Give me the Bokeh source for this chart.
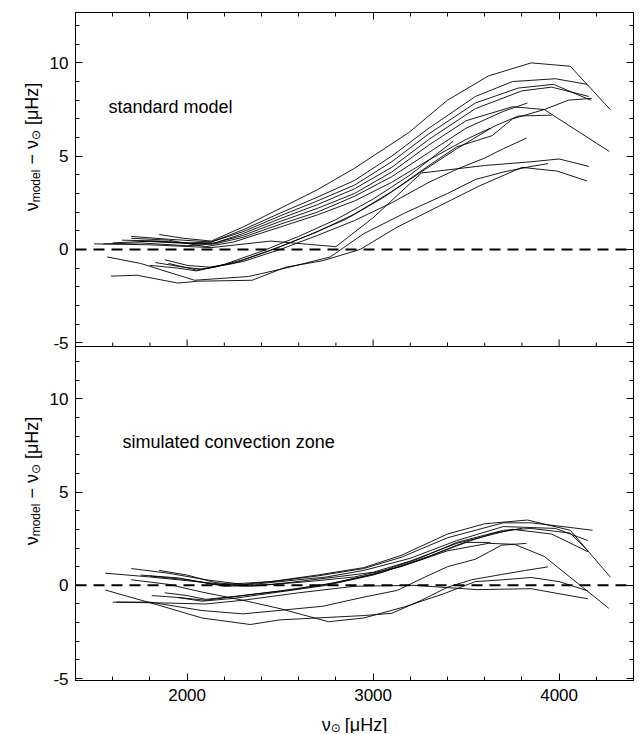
import math
from bokeh.plotting import figure
from bokeh.models import FixedTicker, LinearAxis, Range1d, Span, Label
from bokeh.layouts import column, row
from bokeh.embed import file_html
from bokeh.resources import INLINE

# ---------------- data: standard model (upper panel) ----------------
std_a_x = [1850, 1980, 2130, 2300, 2500, 2700, 2900, 3190, 3400, 3620, 3850, 4060, 4275]
std_a_y = [0.8, 0.6, 0.45, 1.2, 2.2, 3.2, 4.35, 6.25, 8.0, 9.3, 10.0, 9.82, 7.5]
std_b_x = [1700, 1900, 2130, 2300, 2500, 2700, 2900, 3100, 3300, 3550, 3750, 3980, 4150]
std_b_y = [0.7, 0.55, 0.4, 1.05, 1.95, 2.8, 3.7, 5.0, 6.5, 8.2, 9.0, 9.15, 8.85]
std_c_x = [1600, 1800, 2000, 2130, 2300, 2500, 2700, 2900, 3100, 3300, 3550, 3780, 3970, 4170]
std_c_y = [0.35, 0.45, 0.35, 0.4, 0.95, 1.8, 2.6, 3.45, 4.7, 6.2, 7.85, 8.65, 8.85, 8.0]
std_d_x = [1650, 1850, 2050, 2150, 2300, 2500, 2700, 2900, 3100, 3300, 3550, 3800, 3960, 4160]
std_d_y = [0.5, 0.45, 0.3, 0.35, 0.85, 1.65, 2.4, 3.25, 4.4, 5.9, 7.55, 8.5, 8.7, 8.2]
std_e_x = [1750, 1950, 2130, 2300, 2500, 2700, 2900, 3100, 3300, 3500, 3750, 3920, 4270]
std_e_y = [0.45, 0.35, 0.3, 0.75, 1.5, 2.2, 3.0, 4.15, 5.6, 6.9, 7.65, 7.5, 5.25]
std_f_x = [1550, 1750, 2000, 2150, 2300, 2500, 2700, 2900, 3100, 3300, 3500, 3700, 3830]
std_f_y = [0.3, 0.35, 0.2, 0.3, 0.65, 1.35, 2.0, 2.85, 3.9, 5.2, 6.5, 7.4, 7.85]
std_g_x = [1700, 1900, 2100, 2250, 2500, 2700, 2900, 3100, 3300, 3500, 3630]
std_g_y = [0.6, 0.5, 0.15, 0.4, 1.2, 1.85, 2.6, 3.6, 4.8, 5.9, 6.5]
std_h_x = [1800, 1950, 2050, 2200, 2400, 2600, 2800, 3000, 3200, 3430]
std_h_y = [-0.85, -1.0, -1.15, -0.8, -0.1, 0.7, 1.6, 2.7, 4.0, 5.8]
std_i_x = [1830, 1980, 2080, 2250, 2450, 2650, 2850, 3050, 3250, 3450, 3650, 3780, 3960]
std_i_y = [-0.7, -0.95, -1.05, -0.75, -0.05, 0.75, 1.6, 2.75, 4.1, 5.4, 6.6, 7.15, 7.2]
std_j_x = [1900, 2050, 2150, 2300, 2500, 2700, 2900, 3100, 3300, 3450, 3640, 3750, 3920, 4050, 4175]
std_j_y = [-0.75, -1.1, -0.95, -0.55, 0.15, 0.95, 1.9, 3.1, 4.5, 5.5, 6.1, 7.0, 7.5, 8.0, 8.1]
std_k_x = [1880, 2000, 2120, 2300, 2500, 2700, 2900, 3100, 3300, 3450, 3600, 3700, 3825]
std_k_y = [-0.55, -0.85, -0.95, -0.65, 0.0, 0.75, 1.55, 2.5, 3.6, 4.3, 4.9, 5.4, 5.97]
std_l_x = [1570, 1750, 2040, 2330, 2550, 2770, 2950, 3170, 3400, 3550, 3700, 3850, 3940]
std_l_y = [-0.4, -0.75, -1.65, -1.45, -0.95, -0.4, 0.85, 1.95, 3.0, 3.75, 4.15, 4.45, 4.6]
std_m_x = [1590, 1730, 1950, 2060, 2350, 2530, 2730, 2930, 3130, 3350, 3570, 3800, 3990, 4150]
std_m_y = [-1.43, -1.38, -1.8, -1.7, -1.65, -0.95, -0.6, 0.0, 1.2, 2.3, 3.4, 4.4, 4.2, 3.67]
std_n_x = [1500, 1800, 2130, 2450, 2800, 3000, 3260, 3600, 3850, 4000, 4160]
std_n_y = [0.3, 0.25, 0.1, 0.45, 0.15, 1.7, 4.1, 4.5, 4.7, 4.85, 4.45]

# ---------------- data: simulated convection zone (lower panel) ----------------
cz_a_x = [1560, 1800, 2000, 2200, 2450, 2700, 2950, 3150, 3400, 3600, 3830, 4060, 4275]
cz_a_y = [0.65, 0.45, 0.25, 0.05, 0.2, 0.55, 0.95, 1.6, 2.75, 3.3, 3.5, 2.95, 0.45]
cz_b_x = [1700, 1900, 2100, 2300, 2500, 2700, 2950, 3150, 3400, 3700, 3850, 4060, 4180]
cz_b_y = [0.9, 0.65, 0.3, 0.05, 0.25, 0.5, 0.9, 1.5, 2.55, 3.35, 3.35, 3.1, 2.95]
cz_c_x = [1850, 2000, 2150, 2300, 2500, 2750, 2950, 3200, 3450, 3700, 3980, 4155]
cz_c_y = [0.8, 0.55, 0.15, 0.0, 0.2, 0.45, 0.8, 1.45, 2.4, 3.15, 3.05, 2.4]
cz_d_x = [1750, 1950, 2150, 2350, 2550, 2800, 3000, 3200, 3450, 3750, 3960, 4155]
cz_d_y = [0.55, 0.4, 0.05, -0.05, 0.15, 0.45, 0.7, 1.3, 2.25, 3.0, 2.75, 1.8]
cz_e_x = [1800, 2000, 2200, 2400, 2650, 2900, 3150, 3400, 3620, 3760, 3920, 4267]
cz_e_y = [0.5, 0.3, -0.05, 0.0, 0.2, 0.45, 1.0, 1.85, 2.25, 2.2, 1.55, -1.23]
cz_f_x = [1810, 1950, 2080, 2250, 2500, 2750, 3000, 3250, 3450, 3650, 3800]
cz_f_y = [-0.55, -0.65, -0.85, -0.7, -0.35, 0.0, 0.55, 1.35, 2.15, 2.8, 3.05]
cz_g_x = [1880, 2000, 2100, 2250, 2500, 2750, 3000, 3250, 3450, 3700, 3850, 4060, 4155]
cz_g_y = [-0.4, -0.55, -0.75, -0.6, -0.3, 0.05, 0.6, 1.45, 2.3, 2.95, 3.05, 2.8, 1.85]
cz_h_x = [1950, 2100, 2300, 2550, 2800, 3050, 3300, 3500, 3630]
cz_h_y = [-0.65, -0.8, -0.55, -0.25, 0.15, 0.7, 1.55, 2.3, 2.3]
cz_i_x = [1600, 1800, 2080, 2300, 2730, 2950, 3130, 3280, 3400, 3550, 3690, 3825]
cz_i_y = [-0.9, -0.9, -1.35, -1.53, -1.12, -0.63, -0.27, 0.45, 1.0, 1.4, 2.15, 2.25]
cz_j_x = [1560, 1860, 2080, 2340, 2500, 2950, 3100, 3260, 3400, 3530, 3690, 3820, 3940]
cz_j_y = [-0.25, -1.1, -1.75, -2.1, -1.85, -1.62, -1.5, -0.8, -0.1, 0.3, 0.58, 0.8, 0.99]
cz_k_x = [1700, 1900, 2080, 2300, 2500, 2760, 2950, 3170, 3380, 3550, 3700, 3850, 4000, 4155]
cz_k_y = [0.3, 0.05, -0.36, -0.8, -1.25, -1.95, -1.75, -1.15, -0.45, 0.2, 0.3, 0.42, 0.2, -0.3]
cz_l_x = [1620, 1900, 2100, 2300, 2600, 2900, 3220, 3560, 3850, 4000, 4155]
cz_l_y = [-0.9, -0.95, -1.0, -0.8, -0.4, -0.05, 0.0, -0.23, -0.18, -0.45, -0.72]

std_curves = [(std_a_x, std_a_y), (std_b_x, std_b_y), (std_c_x, std_c_y), (std_d_x, std_d_y),
              (std_e_x, std_e_y), (std_f_x, std_f_y), (std_g_x, std_g_y), (std_h_x, std_h_y),
              (std_i_x, std_i_y), (std_j_x, std_j_y), (std_k_x, std_k_y), (std_l_x, std_l_y),
              (std_m_x, std_m_y), (std_n_x, std_n_y)]
cz_curves = [(cz_a_x, cz_a_y), (cz_b_x, cz_b_y), (cz_c_x, cz_c_y), (cz_d_x, cz_d_y),
             (cz_e_x, cz_e_y), (cz_f_x, cz_f_y), (cz_g_x, cz_g_y), (cz_h_x, cz_h_y),
             (cz_i_x, cz_i_y), (cz_j_x, cz_j_y), (cz_k_x, cz_k_y), (cz_l_x, cz_l_y)]

# ticks, limits and texts
x_major = [2000, 3000, 4000]
x_minor = [1400, 1600, 1800, 2200, 2400, 2600, 2800, 3200, 3400, 3600, 3800, 4200, 4400]
y_major = [-5, 0, 5, 10]
y_minor = [-5, -4, -3, -2, -1, 0, 1, 2, 3, 4, 5, 6, 7, 8, 9, 10, 11, 12]
x_limits = (1400, 4400)
panel_limits = (-5.1, 12.8)          # lower panel's y extent
upper_top = 12.7                      # upper panel's top in its own units
panel_titles = ["standard model", "simulated convection zone"]
x_title = ["ν", "⊙", "[μHz]"]
y_title = ["ν", "model", "−", "ν", "⊙", "[μHz]"]

# the two panels share one frame: the upper panel is drawn shifted up by SHIFT
SHIFT = 18
Y_LO = panel_limits[0]
Y_HI = upper_top + SHIFT
BOUND = panel_limits[1]

FONT = "Liberation Sans"
FRAME_W, FRAME_H = 558, 668
B_LEFT, B_RIGHT, B_TOP, B_BOTTOM = 31, 2, 12, 31
YLAB_W = 44
XLAB_H = 22


def hide_labels(ax):
    ax.major_label_text_font_size = "0px"
    ax.major_label_text_color = None
    ax.major_label_standoff = 0


def base_axis(ax, ticks, minor):
    ax.ticker = FixedTicker(ticks=ticks, minor_ticks=minor)
    ax.major_tick_in = 7
    ax.major_tick_out = 0
    ax.minor_tick_in = 4
    ax.minor_tick_out = 0
    ax.axis_line_color = "black"
    ax.major_tick_line_color = "black"
    ax.minor_tick_line_color = "black"


def blank_strip(w, h):
    f = figure(width=w, height=h, x_range=Range1d(0, w), y_range=Range1d(0, h),
               title=None, output_backend="svg", toolbar_location=None, tools="",
               x_axis_location=None, y_axis_location=None,
               min_border_left=0, min_border_right=0, min_border_top=0, min_border_bottom=0)
    f.xgrid.visible = False
    f.ygrid.visible = False
    f.outline_line_color = None
    return f


p = figure(frame_width=FRAME_W, frame_height=FRAME_H, title=None,
           x_range=Range1d(*x_limits), y_range=Range1d(Y_LO, Y_HI),
           output_backend="svg", toolbar_location=None, tools="",
           x_axis_location=None, y_axis_location=None,
           min_border_left=B_LEFT, min_border_right=B_RIGHT,
           min_border_top=B_TOP, min_border_bottom=B_BOTTOM)
p.xgrid.visible = False
p.ygrid.visible = False
p.outline_line_color = "black"
p.background_fill_color = "white"
p.border_fill_color = "white"

y_ticks = y_major + [v + SHIFT for v in y_major]
y_minor_all = y_minor + [v + SHIFT for v in y_minor]
y_labels = {v: str(v) for v in y_major}
y_labels.update({v + SHIFT: str(v) for v in y_major})

bx = LinearAxis()
base_axis(bx, x_major, x_minor)
bx.major_label_text_font = FONT
bx.major_label_text_font_size = "17px"
bx.major_label_text_color = "black"
bx.major_label_standoff = 8
p.add_layout(bx, "below")

tx = LinearAxis()
base_axis(tx, x_major, x_minor)
hide_labels(tx)
p.add_layout(tx, "above")

ly = LinearAxis()
base_axis(ly, y_ticks, y_minor_all)
ly.major_label_overrides = y_labels
ly.major_label_text_font = FONT
ly.major_label_text_font_size = "17px"
ly.major_label_text_color = "black"
ly.major_label_standoff = 7
p.add_layout(ly, "left")

ry = LinearAxis()
base_axis(ry, y_ticks, y_minor_all)
hide_labels(ry)
p.add_layout(ry, "right")

# boundary between the panels, with the upper panel's bottom ticks
p.add_layout(Span(location=BOUND, dimension="width", line_color="black", line_width=1))
units_per_px = (Y_HI - Y_LO) / FRAME_H
p.segment(x0=x_major, y0=[BOUND] * len(x_major), x1=x_major,
          y1=[BOUND + 7 * units_per_px] * len(x_major), line_color="black", line_width=1)
p.segment(x0=x_minor, y0=[BOUND] * len(x_minor), x1=x_minor,
          y1=[BOUND + 4 * units_per_px] * len(x_minor), line_color="black", line_width=1)

# zero reference lines
for off in (0, SHIFT):
    p.add_layout(Span(location=off, dimension="width", line_color="black",
                      line_width=2, line_dash="11 7"))

for xs, ys in std_curves:
    p.line(xs, [v + SHIFT for v in ys], line_color="black", line_width=0.9)
for xs, ys in cz_curves:
    p.line(xs, ys, line_color="black", line_width=0.9)

p.add_layout(Label(x=1577, y=7.65 + SHIFT, text=panel_titles[0], text_font=FONT,
                   text_font_size="18px", text_color="black",
                   text_align="left", text_baseline="middle"))
p.add_layout(Label(x=1653, y=7.68, text=panel_titles[1], text_font=FONT,
                   text_font_size="18px", text_color="black",
                   text_align="left", text_baseline="middle"))

# ---------- left strip holding the two rotated y titles ----------
H_MAIN = B_TOP + FRAME_H + B_BOTTOM
yl = blank_strip(YLAB_W, H_MAIN)
piece_size = [18, 12, 18, 18, 12, 18]
piece_shift = [0, 4, 0, 0, 4, 0]
piece_font = [FONT, FONT, FONT, FONT, "DejaVu Sans", FONT]
piece_adv = [9.0, 37.7, 15.5, 9.0, 15.0, 42.4]     # advance incl. following gap
total_w = sum(piece_adv)
px_per_unit = FRAME_H / (Y_HI - Y_LO)
centres = [B_BOTTOM + ((Y_HI + BOUND) / 2 - Y_LO) * px_per_unit + 1.5,
           B_BOTTOM + ((BOUND + Y_LO) / 2 - Y_LO) * px_per_unit + 1.5]
for c in centres:
    pos = c - total_w / 2
    for txt, size, sh, font, w in zip(y_title, piece_size, piece_shift, piece_font, piece_adv):
        yl.add_layout(Label(x=31 + sh, y=pos, x_units="screen", y_units="screen",
                            text=txt, angle=math.pi / 2, text_font=font,
                            text_font_size=f"{size}px", text_color="black",
                            text_align="left", text_baseline="alphabetic"))
        pos += w

# ---------- bottom strip holding the x title ----------
W_ALL = YLAB_W + B_LEFT + FRAME_W + B_RIGHT
xl = blank_strip(W_ALL, XLAB_H)
xs_size = [18, 12, 18]
xs_shift = [0, -3, 0]
xs_font = [FONT, "DejaVu Sans", FONT]
xs_adv = [9.0, 14.0, 42.4]
xpos = YLAB_W + B_LEFT + FRAME_W / 2 - sum(xs_adv) / 2
for txt, size, sh, font, w in zip(x_title, xs_size, xs_shift, xs_font, xs_adv):
    xl.add_layout(Label(x=xpos, y=9 + sh, x_units="screen", y_units="screen",
                        text=txt, text_font=font, text_font_size=f"{size}px",
                        text_color="black", text_align="left", text_baseline="alphabetic"))
    xpos += w

layout = column(row(yl, p, spacing=0), xl, spacing=0)
open("out.html", "w").write(file_html(layout, INLINE))
